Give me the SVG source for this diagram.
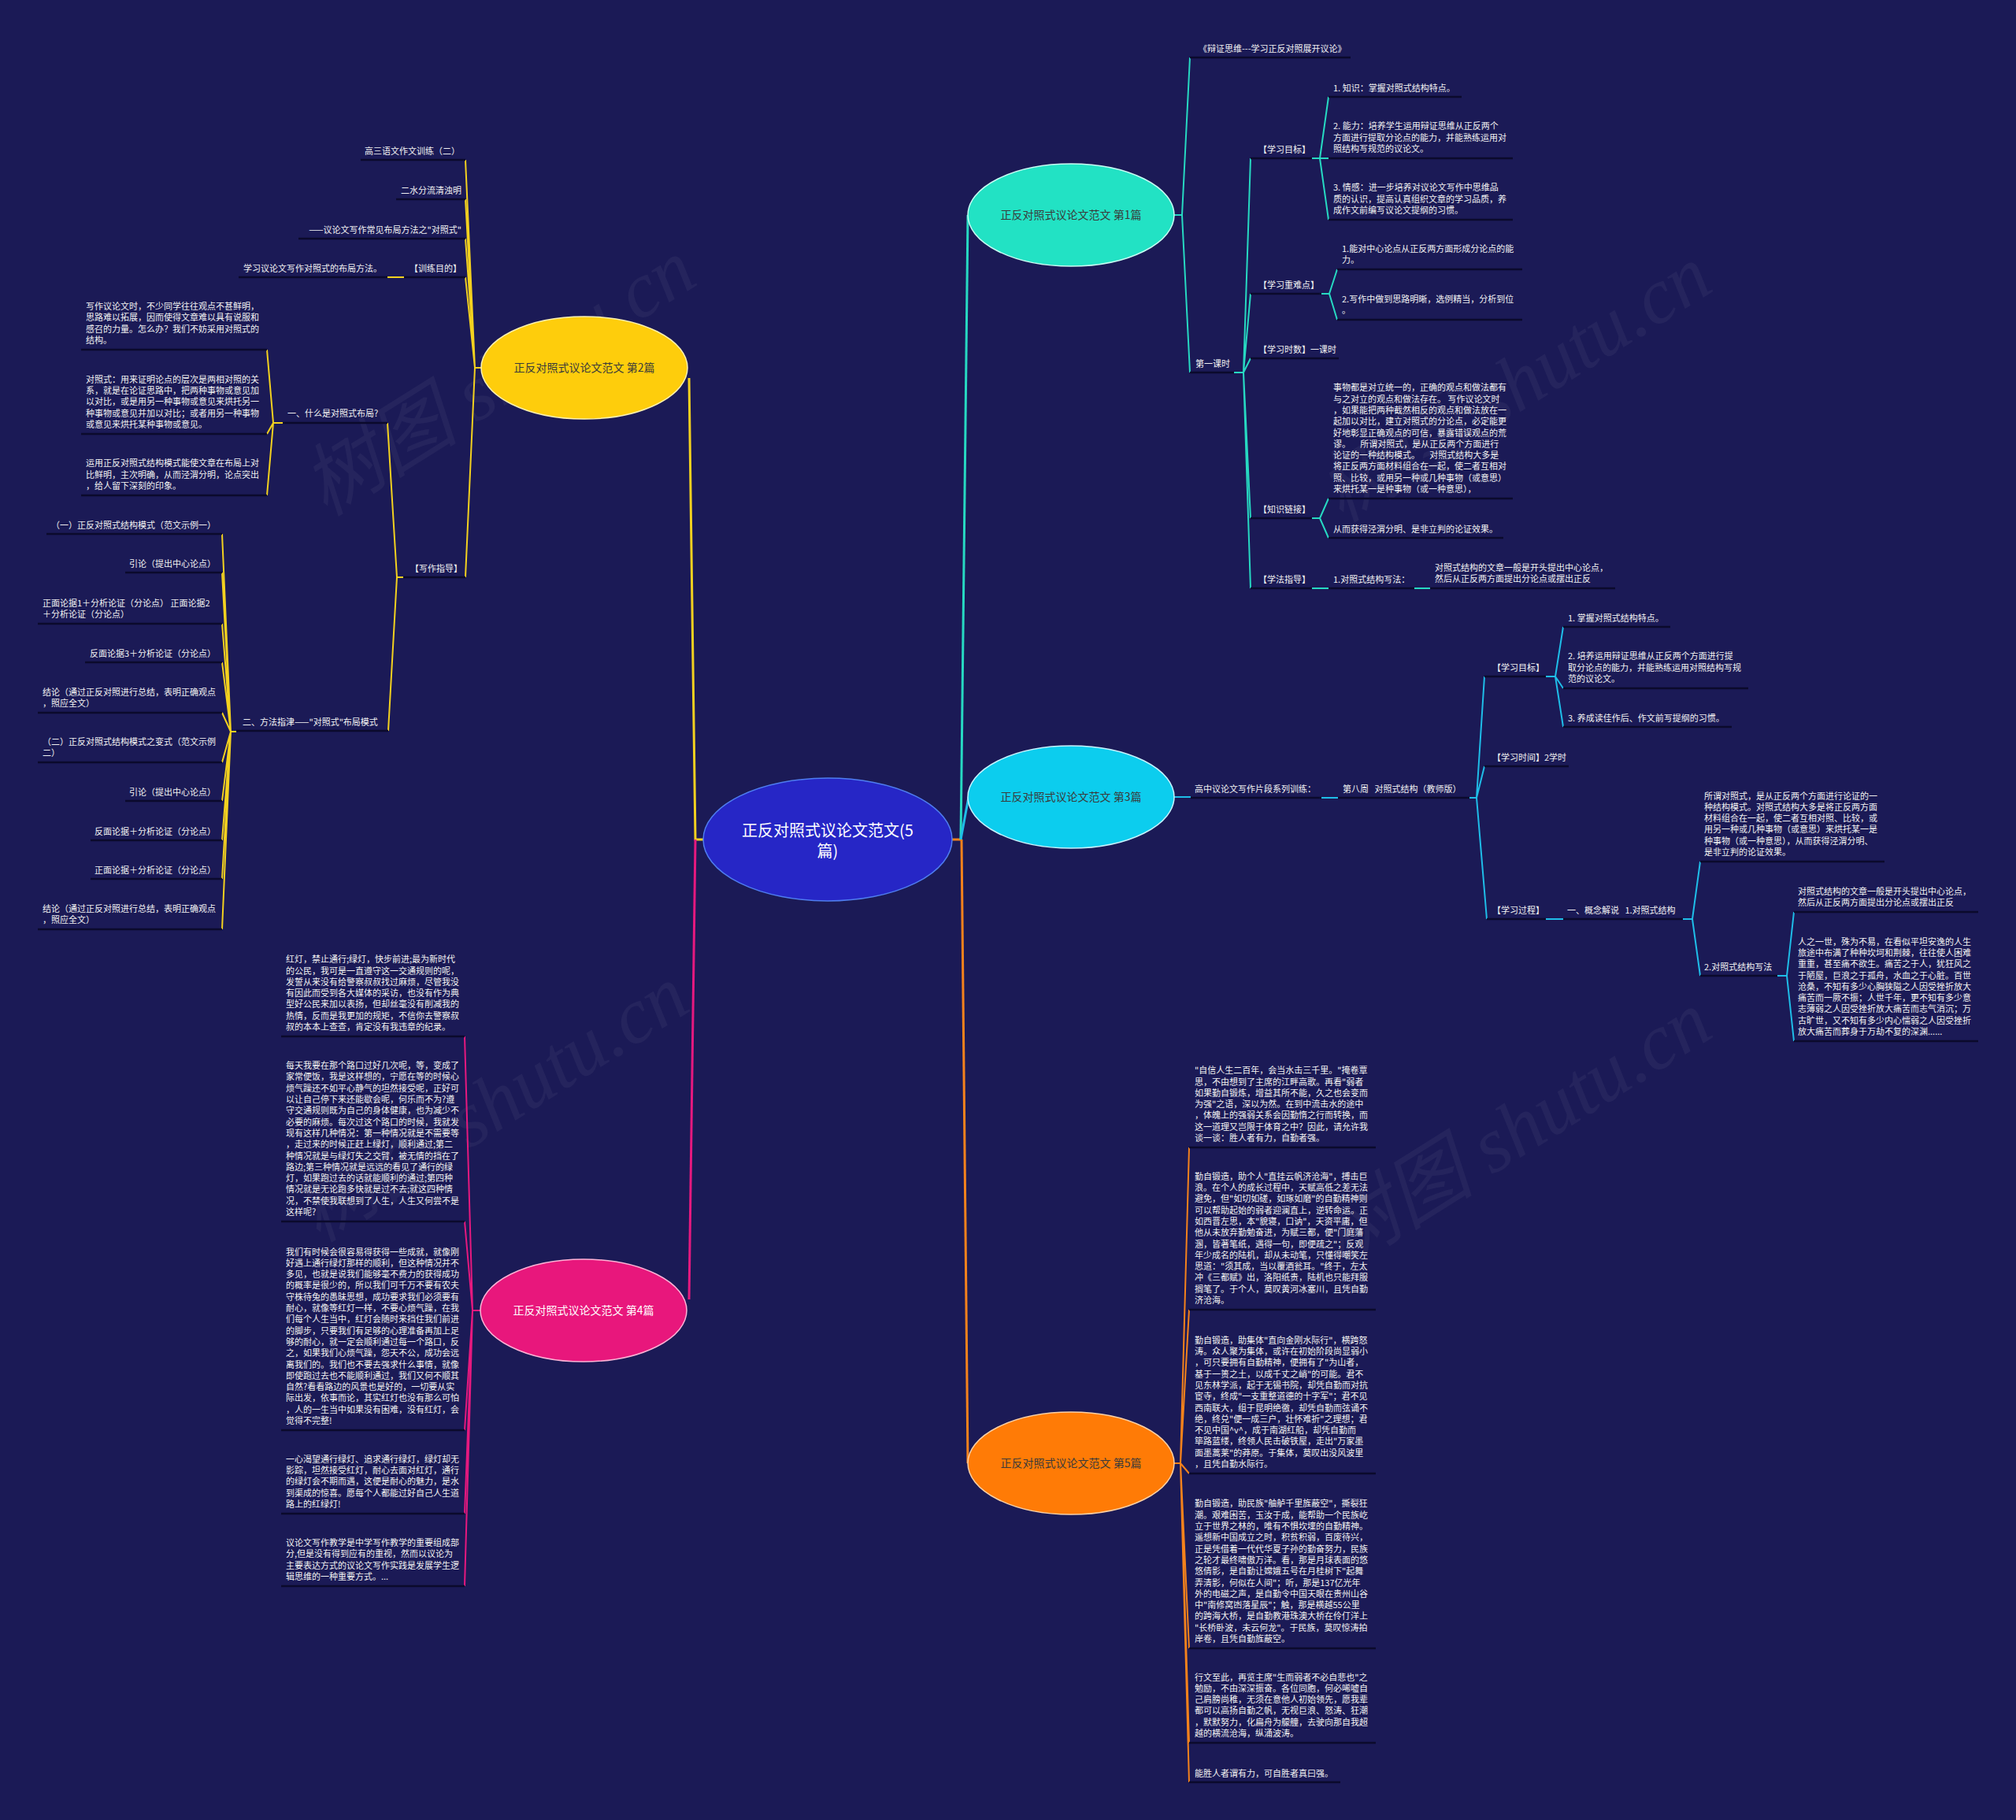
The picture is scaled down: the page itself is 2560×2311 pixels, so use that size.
<svg xmlns="http://www.w3.org/2000/svg" width="2560" height="2311" viewBox="0 0 2560 2311">
<style>
.t{font-family:"Noto Sans CJK SC","Noto Sans",sans-serif;font-size:11px;fill:#f2f2f2}
.e{text-anchor:end}
.ul{stroke:#0b0a2c;stroke-width:2.5;fill:none}
.bt{font-family:"Noto Sans CJK SC","Noto Sans",sans-serif;font-size:14px;text-anchor:middle;fill:#3a3a3a}
.wm{font-family:"Liberation Serif","Noto Sans CJK SC",serif;font-size:100px;font-style:italic;fill:#ffffff;opacity:0.045}
.cy{stroke:#f3d11f}.cm{stroke:#e6197f}.ct{stroke:#27d9c2}.cc{stroke:#1fbde8}.co{stroke:#f5821c}
</style>
<rect width="2560" height="2311" fill="#1b1a56"/>
<g id="watermarks">
<text class="wm" x="645" y="510" text-anchor="middle" transform="rotate(-32 645 498)">树图 shutu.cn</text>
<text class="wm" x="1935" y="518" text-anchor="middle" transform="rotate(-32 1935 506)">树图 shutu.cn</text>
<text class="wm" x="636" y="1432" text-anchor="middle" transform="rotate(-32 636 1420)">树图 shutu.cn</text>
<text class="wm" x="1935" y="1465" text-anchor="middle" transform="rotate(-32 1935 1453)">树图 shutu.cn</text>
</g>
<g id="connectors" fill="none" stroke-width="2">
<path class="co" stroke-width="3" d="M1209 1066H1221"/>
<path class="cy" stroke-width="3" d="M893 1066H883L875 480"/>
<path class="cm" stroke-width="3" d="M883 1066L875 1650"/>
<path class="ct" stroke-width="3" d="M1220 1066L1229 273"/>
<path class="cc" stroke-width="3" d="M1220 1066L1230 1012"/>
<path class="co" stroke-width="3" d="M1221 1066L1229 1858"/>
<!-- branch 2 -->
<path class="cy" d="M611 467H603M603 467L591 203M603 467L591 253M603 467L591 303M603 467L591 352M603 467L591 733"/>
<path class="cy" d="M513 352H492"/>
<path class="cy" d="M512 733H504M504 733L492 537M504 733L493 928"/>
<path class="cy" d="M359 537H347M347 537L339 444M347 537L339 551M347 537L339 629"/>
<path class="cy" d="M300 929H293M293 929L282 678M293 929L282 727M293 929L282 792M293 929L282 841M293 929L282 905M293 929L282 968M293 929L282 1017M293 929L282 1067M293 929L282 1116M293 929L282 1180"/>
<!-- branch 4 -->
<path class="cm" d="M611 1664H600M600 1664L590 1316M600 1664L590 1551M600 1664L590 1816M600 1664L590 1922M600 1664L590 2014"/>
<!-- branch 1 -->
<path class="ct" d="M1491 273H1501M1501 273L1511 73M1501 273L1511 473"/>
<path class="ct" d="M1567 473H1579M1579 473L1588 201M1579 473L1588 373M1579 473L1588 455M1579 473L1588 658M1579 473L1588 747"/>
<path class="ct" d="M1666 201H1676M1676 201L1687 123M1676 201L1687 201M1676 201L1687 279"/>
<path class="ct" d="M1678 373H1688M1688 373L1698 342M1688 373L1698 406"/>
<path class="ct" d="M1666 658H1676M1676 658L1687 633M1676 658L1687 683"/>
<path class="ct" d="M1666 747H1687M1796 747H1816"/>
<!-- branch 3 -->
<path class="cc" d="M1491 1012H1512M1678 1013H1699M1866 1013H1875M1875 1013L1885 859M1875 1013L1885 973M1875 1013L1888 1167"/>
<path class="cc" d="M1963 859H1975M1975 859L1985 796M1975 859L1985 874M1975 859L1985 923"/>
<path class="cc" d="M1963 1167H1985M2137 1167H2149M2149 1167L2159 1094M2149 1167L2159 1239"/>
<path class="cc" d="M2257 1239H2269M2269 1239L2278 1158M2269 1239L2278 1322"/>
<!-- branch 5 -->
<path class="co" d="M1491 1858H1499M1499 1858L1510 1457M1499 1858L1510 1663M1499 1858L1510 1871M1499 1858L1510 2093M1499 1858L1510 2213M1499 1858L1510 2263"/>
</g>
<g id="root">
<ellipse cx="1051" cy="1066" rx="158" ry="78" fill="#2626c6" stroke="#4f7df0" stroke-width="1.5"/>
<text x="1051" y="1062" text-anchor="middle" font-family="Noto Sans CJK SC,Noto Sans,sans-serif" font-size="20" fill="#ffffff"><tspan x="1051">正反对照式议论文范文(5</tspan><tspan x="1051" dy="26">篇)</tspan></text>
</g>
<!-- ===== Branch 2 ===== -->
<g id="b2">
<ellipse cx="742" cy="467" rx="131" ry="65" fill="#fecd0c" stroke="#fff3b0" stroke-width="1.5"/>
<text class="bt" x="742" y="472">正反对照式议论文范文 第2篇</text>
</g>
<g id="b2-1"><line class="ul" x1="458" y1="203" x2="591" y2="203"/><text class="t e" x="584" y="196">高三语文作文训练（二）</text></g>
<g id="b2-2"><line class="ul" x1="503" y1="253" x2="591" y2="253"/><text class="t e" x="586" y="246">二水分流清浊明</text></g>
<g id="b2-3"><line class="ul" x1="379" y1="303" x2="591" y2="303"/><text class="t e" x="586" y="296">——议论文写作常见布局方法之"对照式"</text></g>
<g id="b2-4"><line class="ul" x1="513" y1="352" x2="591" y2="352"/><text class="t e" x="586" y="345">【训练目的】</text></g>
<g id="b2-4-1"><line class="ul" x1="303" y1="352" x2="492" y2="352"/><text class="t" x="309" y="345">学习议论文写作对照式的布局方法。</text></g>
<g id="b2-5"><line class="ul" x1="512" y1="733" x2="591" y2="733"/><text class="t" x="521" y="726">【写作指导】</text></g>
<g id="b2-5-1"><line class="ul" x1="359" y1="537" x2="492" y2="537"/><text class="t" x="365" y="529">一、什么是对照式布局?</text></g>
<g id="b2-5-1-1"><line class="ul" x1="103" y1="444" x2="339" y2="444"/><text class="t" x="109" y="393.1"><tspan x="109">写作议论文时，不少同学往往观点不甚鲜明，</tspan><tspan x="109" dy="14.3">思路难以拓展，因而使得文章难以具有说服和</tspan><tspan x="109" dy="14.3">感召的力量。怎么办？我们不妨采用对照式的</tspan><tspan x="109" dy="14.3">结构。</tspan></text></g>
<g id="b2-5-1-2"><line class="ul" x1="103" y1="551" x2="339" y2="551"/><text class="t" x="109" y="485.8"><tspan x="109">对照式：用来证明论点的层次是两相对照的关</tspan><tspan x="109" dy="14.3">系，就是在论证思路中，把两种事物或意见加</tspan><tspan x="109" dy="14.3">以对比，或是用另一种事物或意见来烘托另一</tspan><tspan x="109" dy="14.3">种事物或意见并加以对比；或者用另一种事物</tspan><tspan x="109" dy="14.3">或意见来烘托某种事物或意见。</tspan></text></g>
<g id="b2-5-1-3"><line class="ul" x1="103" y1="629" x2="339" y2="629"/><text class="t" x="109" y="592.4"><tspan x="109">运用正反对照式结构模式能使文章在布局上对</tspan><tspan x="109" dy="14.3">比鲜明，主次明确，从而泾渭分明，论点突出</tspan><tspan x="109" dy="14.3">，给人留下深刻的印象。</tspan></text></g>
<g id="b2-5-2"><line class="ul" x1="300" y1="928" x2="493" y2="928"/><text class="t" x="308" y="921">二、方法指津——"对照式"布局模式</text></g>
<g id="b2-5-2-1"><line class="ul" x1="59" y1="678" x2="282" y2="678"/><text class="t e" x="274" y="671">（一）正反对照式结构模式（范文示例一）</text></g>
<g id="b2-5-2-2"><line class="ul" x1="159" y1="727" x2="282" y2="727"/><text class="t e" x="274" y="720">引论（提出中心论点）</text></g>
<g id="b2-5-2-3"><line class="ul" x1="48" y1="792" x2="282" y2="792"/><text class="t" x="54" y="769.7"><tspan x="54">正面论据1＋分析论证（分论点） 正面论据2</tspan><tspan x="54" dy="14.3">＋分析论证（分论点）</tspan></text></g>
<g id="b2-5-2-4"><line class="ul" x1="108" y1="841" x2="282" y2="841"/><text class="t e" x="274" y="834">反面论据3＋分析论证（分论点）</text></g>
<g id="b2-5-2-5"><line class="ul" x1="48" y1="905" x2="282" y2="905"/><text class="t" x="54" y="882.7"><tspan x="54">结论（通过正反对照进行总结，表明正确观点</tspan><tspan x="54" dy="14.3">，照应全文）</tspan></text></g>
<g id="b2-5-2-6"><line class="ul" x1="48" y1="968" x2="282" y2="968"/><text class="t" x="54" y="945.7"><tspan x="54">（二）正反对照式结构模式之变式（范文示例</tspan><tspan x="54" dy="14.3">二）</tspan></text></g>
<g id="b2-5-2-7"><line class="ul" x1="159" y1="1017" x2="282" y2="1017"/><text class="t e" x="274" y="1010">引论（提出中心论点）</text></g>
<g id="b2-5-2-8"><line class="ul" x1="115" y1="1067" x2="282" y2="1067"/><text class="t e" x="274" y="1060">反面论据＋分析论证（分论点）</text></g>
<g id="b2-5-2-9"><line class="ul" x1="115" y1="1116" x2="282" y2="1116"/><text class="t e" x="274" y="1109">正面论据＋分析论证（分论点）</text></g>
<g id="b2-5-2-10"><line class="ul" x1="48" y1="1180" x2="282" y2="1180"/><text class="t" x="54" y="1157.7"><tspan x="54">结论（通过正反对照进行总结，表明正确观点</tspan><tspan x="54" dy="14.3">，照应全文）</tspan></text></g>
<!-- ===== Branch 4 ===== -->
<g id="b4">
<ellipse cx="741" cy="1664" rx="131" ry="65" fill="#e8177c" stroke="#ffb3d6" stroke-width="1.5"/>
<text class="bt" x="741" y="1669" fill="#ffffff" style="fill:#ffffff">正反对照式议论文范文 第4篇</text>
</g>
<g id="b4-1"><line class="ul" x1="357" y1="1316" x2="590" y2="1316"/><text class="t" x="363" y="1222.2"><tspan x="363">红灯，禁止通行;绿灯，快步前进;最为新时代</tspan><tspan x="363" dy="14.3">的公民，我可是一直遵守这一交通规则的呢，</tspan><tspan x="363" dy="14.3">发誓从来没有给警察叔叔找过麻烦，尽管我没</tspan><tspan x="363" dy="14.3">有因此而受到各大媒体的采访，也没有作为典</tspan><tspan x="363" dy="14.3">型好公民来加以表扬，但却丝毫没有削减我的</tspan><tspan x="363" dy="14.3">热情，反而是我更加的规矩，不信你去警察叔</tspan><tspan x="363" dy="14.3">叔的本本上查查，肯定没有我违章的纪录。</tspan></text></g>
<g id="b4-2"><line class="ul" x1="357" y1="1551" x2="590" y2="1551"/><text class="t" x="363" y="1357.1"><tspan x="363">每天我要在那个路口过好几次呢，等，变成了</tspan><tspan x="363" dy="14.3">家常便饭，我是这样想的，宁愿在等的时候心</tspan><tspan x="363" dy="14.3">烦气躁还不如平心静气的坦然接受呢，正好可</tspan><tspan x="363" dy="14.3">以让自己停下来还能歇会呢，何乐而不为?遵</tspan><tspan x="363" dy="14.3">守交通规则既为自己的身体健康，也为减少不</tspan><tspan x="363" dy="14.3">必要的麻烦。每次过这个路口的时候，我就发</tspan><tspan x="363" dy="14.3">现有这样几种情况：第一种情况就是不需要等</tspan><tspan x="363" dy="14.3">，走过来的时候正赶上绿灯，顺利通过;第二</tspan><tspan x="363" dy="14.3">种情况就是与绿灯失之交臂，被无情的挡在了</tspan><tspan x="363" dy="14.3">路边;第三种情况就是远远的看见了通行的绿</tspan><tspan x="363" dy="14.3">灯，如果跑过去的话就能顺利的通过;第四种</tspan><tspan x="363" dy="14.3">情况就是无论跑多快就是过不去;就这四种情</tspan><tspan x="363" dy="14.3">况，不禁使我联想到了人生，人生又何尝不是</tspan><tspan x="363" dy="14.3">这样呢?</tspan></text></g>
<g id="b4-3"><line class="ul" x1="357" y1="1816" x2="590" y2="1816"/><text class="t" x="363" y="1593.5"><tspan x="363">我们有时候会很容易得获得一些成就，就像刚</tspan><tspan x="363" dy="14.3">好遇上通行绿灯那样的顺利，但这种情况并不</tspan><tspan x="363" dy="14.3">多见，也就是说我们能够毫不费力的获得成功</tspan><tspan x="363" dy="14.3">的概率是很少的，所以我们可千万不要有农夫</tspan><tspan x="363" dy="14.3">守株待兔的愚昧思想，成功要求我们必须要有</tspan><tspan x="363" dy="14.3">耐心，就像等红灯一样，不要心烦气躁，在我</tspan><tspan x="363" dy="14.3">们每个人生当中，红灯会随时来挡住我们前进</tspan><tspan x="363" dy="14.3">的脚步，只要我们有足够的心理准备再加上足</tspan><tspan x="363" dy="14.3">够的耐心，就一定会顺利通过每一个路口，反</tspan><tspan x="363" dy="14.3">之，如果我们心烦气躁，怨天不公，成功会远</tspan><tspan x="363" dy="14.3">离我们的。我们也不要去强求什么事情，就像</tspan><tspan x="363" dy="14.3">即使跑过去也不能顺利通过，我们又何不顺其</tspan><tspan x="363" dy="14.3">自然?看看路边的风景也是好的，一切要从实</tspan><tspan x="363" dy="14.3">际出发，依事而论，其实红灯也没有那么可怕</tspan><tspan x="363" dy="14.3">，人的一生当中如果没有困难，没有红灯，会</tspan><tspan x="363" dy="14.3">觉得不完整!</tspan></text></g>
<g id="b4-4"><line class="ul" x1="357" y1="1922" x2="590" y2="1922"/><text class="t" x="363" y="1856.8"><tspan x="363">一心渴望通行绿灯、追求通行绿灯，绿灯却无</tspan><tspan x="363" dy="14.3">影踪，坦然接受红灯，耐心去面对红灯，通行</tspan><tspan x="363" dy="14.3">的绿灯会不期而遇，这便是耐心的魅力，是水</tspan><tspan x="363" dy="14.3">到渠成的惊喜。愿每个人都能过好自己人生道</tspan><tspan x="363" dy="14.3">路上的红绿灯!</tspan></text></g>
<g id="b4-5"><line class="ul" x1="357" y1="2014" x2="590" y2="2014"/><text class="t" x="363" y="1963.1"><tspan x="363">议论文写作教学是中学写作教学的重要组成部</tspan><tspan x="363" dy="14.3">分,但是没有得到应有的重视，然而以议论为</tspan><tspan x="363" dy="14.3">主要表达方式的议论文写作实践是发展学生逻</tspan><tspan x="363" dy="14.3">辑思维的一种重要方式。...</tspan></text></g>
<!-- ===== Branch 1 ===== -->
<g id="b1">
<ellipse cx="1360" cy="273" rx="131" ry="65" fill="#22e2c4" stroke="#c8fff4" stroke-width="1.5"/>
<text class="bt" x="1360" y="278">正反对照式议论文范文 第1篇</text>
</g>
<g id="b1-1"><line class="ul" x1="1511" y1="73" x2="1715" y2="73"/><text class="t" x="1522" y="66">《辩证思维---学习正反对照展开议论》</text></g>
<g id="b1-2"><line class="ul" x1="1511" y1="473" x2="1567" y2="473"/><text class="t" x="1518" y="466">第一课时</text></g>
<g id="b1-2-1"><line class="ul" x1="1588" y1="201" x2="1666" y2="201"/><text class="t" x="1598" y="194">【学习目标】</text></g>
<g id="b1-2-1-1"><line class="ul" x1="1687" y1="123" x2="1856" y2="123"/><text class="t" x="1693" y="116">1. 知识：掌握对照式结构特点。</text></g>
<g id="b1-2-1-2"><line class="ul" x1="1687" y1="201" x2="1921" y2="201"/><text class="t" x="1693" y="164.4"><tspan x="1693">2. 能力：培养学生运用辩证思维从正反两个</tspan><tspan x="1693" dy="14.3">方面进行提取分论点的能力，并能熟练运用对</tspan><tspan x="1693" dy="14.3">照结构写规范的议论文。</tspan></text></g>
<g id="b1-2-1-3"><line class="ul" x1="1687" y1="279" x2="1921" y2="279"/><text class="t" x="1693" y="242.4"><tspan x="1693">3. 情感：进一步培养对议论文写作中思维品</tspan><tspan x="1693" dy="14.3">质的认识，提高认真组织文章的学习品质，养</tspan><tspan x="1693" dy="14.3">成作文前编写议论文提纲的习惯。</tspan></text></g>
<g id="b1-2-2"><line class="ul" x1="1588" y1="373" x2="1678" y2="373"/><text class="t" x="1598" y="366">【学习重难点】</text></g>
<g id="b1-2-2-1"><line class="ul" x1="1698" y1="342" x2="1933" y2="342"/><text class="t" x="1704" y="319.7"><tspan x="1704">1.能对中心论点从正反两方面形成分论点的能</tspan><tspan x="1704" dy="14.3">力。</tspan></text></g>
<g id="b1-2-2-2"><line class="ul" x1="1698" y1="406" x2="1933" y2="406"/><text class="t" x="1704" y="383.7"><tspan x="1704">2.写作中做到思路明晰，选例精当，分析到位</tspan><tspan x="1704" dy="14.3">。</tspan></text></g>
<g id="b1-2-3"><line class="ul" x1="1588" y1="455" x2="1700" y2="455"/><text class="t" x="1598" y="448">【学习时数】一课时</text></g>
<g id="b1-2-4"><line class="ul" x1="1588" y1="658" x2="1666" y2="658"/><text class="t" x="1598" y="651">【知识链接】</text></g>
<g id="b1-2-4-1"><line class="ul" x1="1687" y1="633" x2="1921" y2="633"/><text class="t" x="1693" y="496.3"><tspan x="1693">事物都是对立统一的，正确的观点和做法都有</tspan><tspan x="1693" dy="14.3">与之对立的观点和做法存在。 写作议论文时</tspan><tspan x="1693" dy="14.3">，如果能把两种截然相反的观点和做法放在一</tspan><tspan x="1693" dy="14.3">起加以对比，建立对照式的分论点，必定能更</tspan><tspan x="1693" dy="14.3">好地彰显正确观点的可信，暴露错误观点的荒</tspan><tspan x="1693" dy="14.3" xml:space="preserve">谬。     所谓对照式，是从正反两个方面进行</tspan><tspan x="1693" dy="14.3" xml:space="preserve">论证的一种结构模式。     对照式结构大多是</tspan><tspan x="1693" dy="14.3">将正反两方面材料组合在一起，使二者互相对</tspan><tspan x="1693" dy="14.3">照、比较，或用另一种或几种事物（或意思）</tspan><tspan x="1693" dy="14.3">来烘托某一是种事物（或一种意思），</tspan></text></g>
<g id="b1-2-4-2"><line class="ul" x1="1687" y1="683" x2="1909" y2="683"/><text class="t" x="1693" y="676">从而获得泾渭分明、是非立判的论证效果。</text></g>
<g id="b1-2-5"><line class="ul" x1="1588" y1="747" x2="1666" y2="747"/><text class="t" x="1598" y="740">【学法指导】</text></g>
<g id="b1-2-5-1"><line class="ul" x1="1687" y1="747" x2="1796" y2="747"/><text class="t" x="1693" y="740">1.对照式结构写法：</text></g>
<g id="b1-2-5-1-1"><line class="ul" x1="1816" y1="747" x2="2051" y2="747"/><text class="t" x="1822" y="724.7"><tspan x="1822">对照式结构的文章一般是开头提出中心论点，</tspan><tspan x="1822" dy="14.3">然后从正反两方面提出分论点或摆出正反</tspan></text></g>
<!-- ===== Branch 3 ===== -->
<g id="b3">
<ellipse cx="1360" cy="1012" rx="131" ry="65" fill="#0ccdee" stroke="#c6f4ff" stroke-width="1.5"/>
<text class="bt" x="1360" y="1017">正反对照式议论文范文 第3篇</text>
</g>
<g id="b3-1"><line class="ul" x1="1512" y1="1013" x2="1678" y2="1013"/><text class="t" x="1517" y="1006">高中议论文写作片段系列训练：</text></g>
<g id="b3-2"><line class="ul" x1="1699" y1="1013" x2="1866" y2="1013"/><text class="t" x="1705" y="1006" xml:space="preserve">第八周   对照式结构（教师版）</text></g>
<g id="b3-2-1"><line class="ul" x1="1885" y1="859" x2="1963" y2="859"/><text class="t" x="1895" y="852">【学习目标】</text></g>
<g id="b3-2-1-1"><line class="ul" x1="1985" y1="796" x2="2121" y2="796"/><text class="t" x="1991" y="789">1. 掌握对照式结构特点。</text></g>
<g id="b3-2-1-2"><line class="ul" x1="1985" y1="874" x2="2220" y2="874"/><text class="t" x="1991" y="837.4"><tspan x="1991">2. 培养运用辩证思维从正反两个方面进行提</tspan><tspan x="1991" dy="14.3">取分论点的能力，并能熟练运用对照结构写规</tspan><tspan x="1991" dy="14.3">范的议论文。</tspan></text></g>
<g id="b3-2-1-3"><line class="ul" x1="1985" y1="923" x2="2199" y2="923"/><text class="t" x="1991" y="916">3. 养成读佳作后、作文前写提纲的习惯。</text></g>
<g id="b3-2-2"><line class="ul" x1="1885" y1="973" x2="1992" y2="973"/><text class="t" x="1895" y="966">【学习时间】2学时</text></g>
<g id="b3-2-3"><line class="ul" x1="1888" y1="1167" x2="1963" y2="1167"/><text class="t" x="1895" y="1160">【学习过程】</text></g>
<g id="b3-2-3-1"><line class="ul" x1="1985" y1="1167" x2="2137" y2="1167"/><text class="t" x="1990" y="1160" xml:space="preserve">一、概念解说   1.对照式结构</text></g>
<g id="b3-2-3-1-1"><line class="ul" x1="2159" y1="1094" x2="2393" y2="1094"/><text class="t" x="2164" y="1014.5"><tspan x="2164">所谓对照式，是从正反两个方面进行论证的一</tspan><tspan x="2164" dy="14.3">种结构模式。对照式结构大多是将正反两方面</tspan><tspan x="2164" dy="14.3">材料组合在一起，使二者互相对照、比较，或</tspan><tspan x="2164" dy="14.3">用另一种或几种事物（或意思）来烘托某一是</tspan><tspan x="2164" dy="14.3">种事物（或一种意思），从而获得泾渭分明、</tspan><tspan x="2164" dy="14.3">是非立判的论证效果。</tspan></text></g>
<g id="b3-2-3-1-2"><line class="ul" x1="2159" y1="1239" x2="2257" y2="1239"/><text class="t" x="2164" y="1232">2.对照式结构写法</text></g>
<g id="b3-2-3-1-2-1"><line class="ul" x1="2278" y1="1158" x2="2512" y2="1158"/><text class="t" x="2283" y="1135.7"><tspan x="2283">对照式结构的文章一般是开头提出中心论点，</tspan><tspan x="2283" dy="14.3">然后从正反两方面提出分论点或摆出正反</tspan></text></g>
<g id="b3-2-3-1-2-2"><line class="ul" x1="2278" y1="1322" x2="2512" y2="1322"/><text class="t" x="2283" y="1199.6"><tspan x="2283">人之一世，殊为不易，在看似平坦安逸的人生</tspan><tspan x="2283" dy="14.3">旅途中布满了种种坎坷和荆棘，往往使人困难</tspan><tspan x="2283" dy="14.3">重重，甚至痛不欲生。痛苦之于人，犹狂风之</tspan><tspan x="2283" dy="14.3">于陋屋，巨浪之于孤舟，水血之于心脏。百世</tspan><tspan x="2283" dy="14.3">沧桑，不知有多少心胸狭隘之人因受挫折放大</tspan><tspan x="2283" dy="14.3">痛苦而一厥不振；人世千年，更不知有多少意</tspan><tspan x="2283" dy="14.3">志薄弱之人因受挫折放大痛苦而志气消沉；万</tspan><tspan x="2283" dy="14.3">古旷世，又不知有多少内心懦弱之人因受挫折</tspan><tspan x="2283" dy="14.3">放大痛苦而葬身于万劫不复的深渊......</tspan></text></g>
<!-- ===== Branch 5 ===== -->
<g id="b5">
<ellipse cx="1360" cy="1858" rx="131" ry="65" fill="#ff7b06" stroke="#ffd2a6" stroke-width="1.5"/>
<text class="bt" x="1360" y="1863">正反对照式议论文范文 第5篇</text>
</g>
<g id="b5-1"><line class="ul" x1="1510" y1="1457" x2="1747" y2="1457"/><text class="t" x="1517" y="1363.2"><tspan x="1517">"自信人生二百年，会当水击三千里。"掩卷覃</tspan><tspan x="1517" dy="14.3">思，不由想到了主席的江畔高歌。再看"弱者</tspan><tspan x="1517" dy="14.3">如果勤自锻炼，增益其所不能，久之也会变而</tspan><tspan x="1517" dy="14.3">为强"之语，深以为然。在到中流击水的途中</tspan><tspan x="1517" dy="14.3">，体魄上的强弱关系会因勤惰之行而转换，而</tspan><tspan x="1517" dy="14.3">这一道理又岂限于体育之中？因此，请允许我</tspan><tspan x="1517" dy="14.3">谈一谈：胜人者有力，自勤者强。</tspan></text></g>
<g id="b5-2"><line class="ul" x1="1510" y1="1663" x2="1747" y2="1663"/><text class="t" x="1517" y="1497.7"><tspan x="1517">勤自锻造，助个人"直挂云帆济沧海"，搏击巨</tspan><tspan x="1517" dy="14.3">浪。在个人的成长过程中，天赋高低之差无法</tspan><tspan x="1517" dy="14.3">避免，但"如切如磋，如琢如磨"的自勤精神则</tspan><tspan x="1517" dy="14.3">可以帮助起始的弱者迎澜直上，逆转命运。正</tspan><tspan x="1517" dy="14.3">如西晋左思，本"貌寝，口讷"，天资平庸，但</tspan><tspan x="1517" dy="14.3">他从未放弃勤勉奋进，为赋三都，便"门庭藩</tspan><tspan x="1517" dy="14.3">溷，皆著笔纸，遇得一句，即便疏之"；反观</tspan><tspan x="1517" dy="14.3">年少成名的陆机，却从未动笔，只懂得嘲笑左</tspan><tspan x="1517" dy="14.3">思道："须其成，当以覆酒瓮耳。"终于，左太</tspan><tspan x="1517" dy="14.3">冲《三都赋》出，洛阳纸贵，陆机也只能拜服</tspan><tspan x="1517" dy="14.3">搁笔了。于个人，莫叹黄河冰塞川，且凭自勤</tspan><tspan x="1517" dy="14.3">济沧海。</tspan></text></g>
<g id="b5-3"><line class="ul" x1="1510" y1="1871" x2="1747" y2="1871"/><text class="t" x="1517" y="1705.7"><tspan x="1517">勤自锻造，助集体"直向金刚水际行"，横跨怒</tspan><tspan x="1517" dy="14.3">涛。众人聚为集体，或许在初始阶段尚显弱小</tspan><tspan x="1517" dy="14.3">，可只要拥有自勤精神，便拥有了"为山者，</tspan><tspan x="1517" dy="14.3">基于一篑之土，以成千丈之峭"的可能。君不</tspan><tspan x="1517" dy="14.3">见东林学派，起于无锡书院，却凭自勤而对抗</tspan><tspan x="1517" dy="14.3">宦寺，终成"一支重整道德的十字军"；君不见</tspan><tspan x="1517" dy="14.3">西南联大，组于昆明绝徼，却凭自勤而弦诵不</tspan><tspan x="1517" dy="14.3">绝，终兑"便一成三户，壮怀难折"之理想；君</tspan><tspan x="1517" dy="14.3">不见中国^v^，成于南湖红船，却凭自勤而</tspan><tspan x="1517" dy="14.3">筚路蓝缕，终领人民击破铁屋，走出"万家墨</tspan><tspan x="1517" dy="14.3">面墨蒿莱"的莽原。于集体，莫叹出没风波里</tspan><tspan x="1517" dy="14.3">，且凭自勤水际行。</tspan></text></g>
<g id="b5-4"><line class="ul" x1="1510" y1="2093" x2="1747" y2="2093"/><text class="t" x="1517" y="1913.4"><tspan x="1517">勤自锻造，助民族"舳舻千里旌蔽空"，撕裂狂</tspan><tspan x="1517" dy="14.3">潮。艰难困苦，玉汝于成，能帮助一个民族屹</tspan><tspan x="1517" dy="14.3">立于世界之林的，唯有不惧坎壈的自勤精神。</tspan><tspan x="1517" dy="14.3">遥想新中国成立之时，积贫积弱，百废待兴，</tspan><tspan x="1517" dy="14.3">正是凭借着一代代华夏子孙的勤奋努力，民族</tspan><tspan x="1517" dy="14.3">之轮才最终啸傲万洋。看，那是月球表面的悠</tspan><tspan x="1517" dy="14.3">悠倩影，是自勤让嫦娥五号在月桂树下"起舞</tspan><tspan x="1517" dy="14.3">弄清影，何似在人间"；听，那是137亿光年</tspan><tspan x="1517" dy="14.3">外的电磁之声，是自勤令中国天眼在贵州山谷</tspan><tspan x="1517" dy="14.3">中"南修窝凼落星辰"；触，那是横越55公里</tspan><tspan x="1517" dy="14.3">的跨海大桥，是自勤教港珠澳大桥在伶仃洋上</tspan><tspan x="1517" dy="14.3">"长桥卧波，未云何龙"。于民族，莫叹惊涛拍</tspan><tspan x="1517" dy="14.3">岸卷，且凭自勤旌蔽空。</tspan></text></g>
<g id="b5-5"><line class="ul" x1="1510" y1="2213" x2="1747" y2="2213"/><text class="t" x="1517" y="2133.5"><tspan x="1517">行文至此，再览主席"生而弱者不必自悲也"之</tspan><tspan x="1517" dy="14.3">勉励，不由深深振奋。各位同胞，何必唏嘘自</tspan><tspan x="1517" dy="14.3">己肩膀尚稚，无须在意他人初始领先，愿我辈</tspan><tspan x="1517" dy="14.3">都可以高扬自勤之帆，无视巨浪、怒涛、狂潮</tspan><tspan x="1517" dy="14.3">，默默努力，化扁舟为艨艟，去驶向那自我超</tspan><tspan x="1517" dy="14.3">越的横流沧海，纵涌波涛。</tspan></text></g>
<g id="b5-6"><line class="ul" x1="1510" y1="2263" x2="1702" y2="2263"/><text class="t" x="1517" y="2256">能胜人者谓有力，可自胜者真曰强。</text></g>
</svg>
